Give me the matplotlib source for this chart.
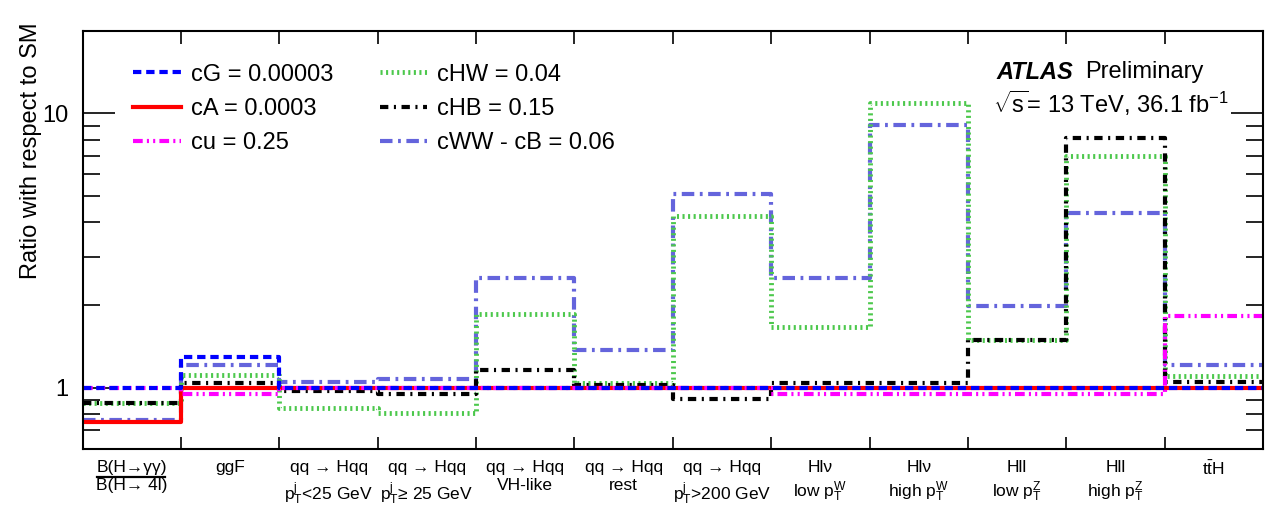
import numpy as np
import matplotlib
matplotlib.use("Agg")
from matplotlib import pyplot as plt
from matplotlib import transforms
from matplotlib.ticker import LogLocator, NullFormatter, FixedLocator

plt.rcParams['font.family'] = ['Liberation Sans', 'DejaVu Sans']
plt.rcParams['mathtext.fontset'] = 'custom'
plt.rcParams['mathtext.rm'] = 'Liberation Sans'
plt.rcParams['mathtext.it'] = 'Liberation Sans:italic'
plt.rcParams['mathtext.bf'] = 'Liberation Sans:bold'
plt.rcParams['lines.scale_dashes'] = False

# bin labels
CATEGORIES = [
    "B(H→γγ)\nB(H→ 4l)",
    "ggF",
    "qq → Hqq\n$\\mathrm{p_T^j}$<25 GeV",
    "qq → Hqq\n$\\mathrm{p_T^j}$≥ 25 GeV",
    "qq → Hqq\nVH-like",
    "qq → Hqq\nrest",
    "qq → Hqq\n$\\mathrm{p_T^j}$>200 GeV",
    "Hlν\nlow $\\mathrm{p_T^W}$",
    "Hlν\nhigh $\\mathrm{p_T^W}$",
    "Hll\nlow $\\mathrm{p_T^Z}$",
    "Hll\nhigh $\\mathrm{p_T^Z}$",
    "$\\mathrm{t\\bar{t}H}$",
]

# ratio to SM per bin
cG   = [1.0, 1.29, 1.0, 1.0, 1.0, 1.0, 1.0, 1.0, 1.0, 1.0, 1.0, 1.0]
cA   = [0.75, 1.0, 1.0, 1.0, 1.0, 1.0, 1.0, 1.0, 1.0, 1.0, 1.0, 1.0]
cu   = [1.0, 0.95, 1.0, 1.0, 1.0, 1.0, 1.0, 0.95, 0.95, 0.95, 0.95, 1.83]
cHW  = [0.88, 1.11, 0.84, 0.81, 1.85, 1.04, 4.23, 1.66, 10.9, 1.49, 6.98, 1.105]
cHB  = [0.88, 1.04, 0.97, 0.95, 1.16, 1.02, 0.91, 1.04, 1.04, 1.49, 8.15, 1.045]
cWWB = [0.765, 1.21, 1.05, 1.075, 2.5, 1.37, 5.1, 2.5, 9.04, 1.98, 4.32, 1.21]

LABELS = ["cG = 0.00003", "cA = 0.0003", "cu = 0.25",
          "cHW = 0.04", "cHB = 0.15", "cWW - cB = 0.06"]

edges = np.arange(len(CATEGORIES) + 1)

def stairs(ax, vals, **kw):
    y = np.append(vals, vals[-1])
    line, = ax.step(edges, y, where='post', **kw)
    return line

fig = plt.figure(figsize=(12.88, 5.12), dpi=100)
ax = fig.add_axes([0.0642, 0.124, 0.9164, 0.816])

h_wwb = stairs(ax, cWWB, color='#6464dc', lw=3, linestyle=(0, (9, 4, 2, 4)))
h_hw = stairs(ax, cHW, color='#4cc84c', lw=3.5, linestyle=(0, (1.5, 2.5)))
h_hb = stairs(ax, cHB, color='black', lw=3, linestyle=(0, (6, 4, 1.5, 4)))
h_a = stairs(ax, cA, color='#ff0000', lw=3)
h_u = stairs(ax, cu, color='#ff00ff', lw=3, linestyle=(0, (7, 3, 1.5, 3, 1.5, 3)))
h_g = stairs(ax, cG, color='#0000ff', lw=3, linestyle=(0, (6, 3.5)))

ax.set_yscale('log')
ax.set_xlim(0, len(CATEGORIES))
ax.set_ylim(0.6, 20)

ax.yaxis.set_major_locator(FixedLocator([1, 10]))
ax.set_yticklabels(['1', '10'])
ax.yaxis.set_minor_locator(LogLocator(base=10, subs=np.arange(2, 10)))
ax.yaxis.set_minor_formatter(NullFormatter())

ax.set_xticks(edges)
ax.set_xticklabels([])
ax.set_xticks(edges[:-1] + 0.5, minor=True)
ax.set_xticklabels(CATEGORIES, minor=True, fontsize=12.5, linespacing=1.3)

ax.tick_params(axis='x', which='major', direction='in', length=9, width=1.2,
               top=True, bottom=True)
ax.tick_params(axis='x', which='minor', length=0, pad=8)
ax.tick_params(axis='y', which='major', direction='in', length=23, width=1.2,
               left=True, right=True, labelsize=17, pad=10)
ax.tick_params(axis='y', which='minor', direction='in', length=12, width=1.2,
               left=True, right=True)
for s in ax.spines.values():
    s.set_linewidth(1.5)

# fraction bar under first label
trans = transforms.blended_transform_factory(ax.transData, ax.transAxes)
ax.plot([0.15, 0.84], [-0.069, -0.069], transform=trans, color='black',
        lw=1.6, clip_on=False)

fig.text(0.024, 1 - 22 / 512, "Ratio with respect to SM", rotation=90,
         va='top', ha='center', fontsize=17)

ax.legend([h_g, h_a, h_u, h_hw, h_hb, h_wwb], LABELS, ncol=2, frameon=False,
          fontsize=17, loc='upper left', bbox_to_anchor=(0.043, 0.921),
          borderaxespad=0, borderpad=0, handlelength=2.0, handletextpad=0.42,
          columnspacing=2.0, labelspacing=0.52)

ax.text(0.7746, 0.901, "ATLAS", transform=ax.transAxes, fontsize=17,
        fontweight='bold', fontstyle='italic', va='center', ha='left')
ax.text(0.849, 0.901, "Preliminary", transform=ax.transAxes, fontsize=17,
        va='center', ha='left')
ax.text(0.771, 0.827, "$\\sqrt{\\mathrm{s}}$= 13 TeV, 36.1 fb$^{\\mathrm{-1}}$",
        transform=ax.transAxes, fontsize=17, va='center', ha='left')

fig.savefig('out.png', dpi=100)
